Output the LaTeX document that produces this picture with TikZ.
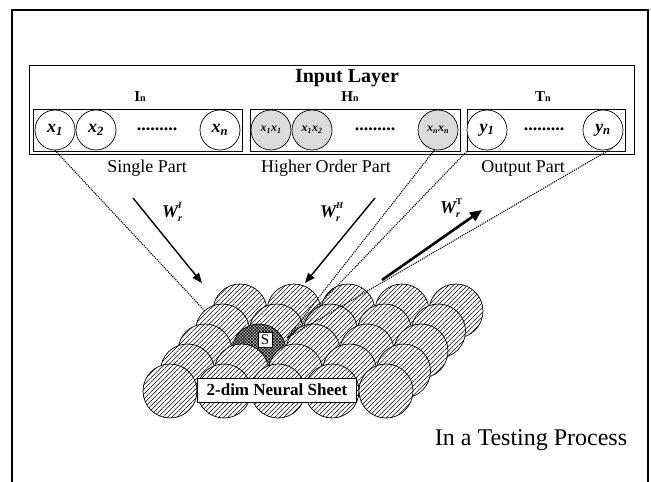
\documentclass[tikz,border=0pt]{standalone}
\usepackage{fontspec}
\setmainfont{Liberation Serif}
\usetikzlibrary{patterns.meta,arrows.meta}
\begin{document}
\begin{tikzpicture}[x=1pt,y=-1pt,
  incirc/.style={circle,draw,line width=0.7pt,minimum size=40pt,inner sep=0pt,fill=white,
    font=\bfseries\itshape\fontsize{18}{18}\selectfont},
  hcirc/.style={incirc,fill=gray!28,font=\bfseries\itshape\fontsize{12}{12}\selectfont},
  partbox/.style={draw,line width=0.8pt,inner sep=0pt},
  plabel/.style={font=\fontsize{18}{20}\selectfont},
  blabel/.style={font=\bfseries\fontsize{15}{16}\selectfont},
  dotsl/.style={font=\bfseries\fontsize{18}{18}\selectfont},
  conn/.style={densely dotted,line width=1.1pt},
  warrow/.style={line width=1.4pt,-{Triangle[length=10pt,width=8pt]}},
  wlabel/.style={font=\fontsize{18}{18}\selectfont}
]
\useasboundingbox (0,0) rectangle (651,482);
% outer frame
\draw[line width=1.6pt] (12,490) -- (12,10) -- (648,10) -- (648,490);

% input layer
\node[partbox,line width=0.9pt,minimum width=605pt,minimum height=89pt] (layer) at (331.5,109.5) {};
\node[font=\bfseries\fontsize{20}{22}\selectfont] (title) at (347,78) {Input Layer};

\node[partbox,minimum width=209pt,minimum height=42pt] (inbox) at (137.5,130) {};
\node[partbox,minimum width=210pt,minimum height=42pt] (hbox) at (355,130) {};
\node[partbox,minimum width=158pt,minimum height=42pt] (tbox) at (546,130) {};

\node[blabel] (inl) at (140,97) {I\raisebox{0pt}{\fontsize{10}{10}\selectfont n}};
\node[blabel] (hnl) at (350,97) {H\raisebox{0pt}{\fontsize{10}{10}\selectfont n}};
\node[blabel] (tnl) at (543,97) {T\raisebox{0pt}{\fontsize{10}{10}\selectfont n}};

\node[incirc] (x1) at (55,130) {x\textsubscript{1}};
\node[incirc] (x2) at (96,130) {x\textsubscript{2}};
\node[dotsl] (idots) at (157,129) {.........};
\node[incirc] (xn) at (220,130) {x\textsubscript{n}};

\node[hcirc] (h1) at (271,130) {x\textsubscript{1}x\textsubscript{1}};
\node[hcirc] (h2) at (312,130) {x\textsubscript{1}x\textsubscript{2}};
\node[dotsl] (hdots) at (375,129) {.........};
\node[hcirc] (hn) at (438,130) {x\textsubscript{n}x\textsubscript{n}};

\node[incirc] (y1) at (487,130) {y\textsubscript{1}};
\node[dotsl] (tdots) at (544,129) {.........};
\node[incirc] (yn) at (603,130) {y\textsubscript{n}};

\node[plabel] (sp) at (147,168) {Single Part};
\node[plabel] (hp) at (326,168) {Higher Order Part};
\node[plabel] (op) at (523,168) {Output Part};

% weights
\node[wlabel] (wi) at (172,212) {\bfseries\itshape W\makebox[0pt][l]{\raisebox{1.1ex}{\fontsize{9}{9}\selectfont I}}\raisebox{-0.4ex}{\fontsize{10}{10}\selectfont r}};
\node[wlabel] (wh) at (330,212) {\bfseries\itshape W\makebox[0pt][l]{\raisebox{1.1ex}{\fontsize{9}{9}\selectfont H}}\raisebox{-0.4ex}{\fontsize{10}{10}\selectfont r}};
\node[wlabel] (wt) at (450,208) {\bfseries\itshape W\makebox[0pt][l]{\raisebox{1.1ex}{\fontsize{9}{9}\upshape\selectfont T}}\raisebox{-0.4ex}{\fontsize{10}{10}\selectfont r}};

\coordinate (ai1) at (133,198); \coordinate (ai2) at (202,283);
\coordinate (ah1) at (375,198); \coordinate (ah2) at (305,283);
\coordinate (at1) at (382,280); \coordinate (at2) at (482,210);
\draw[warrow] (ai1) -- (ai2);
\draw[warrow] (ah1) -- (ah2);
\draw[warrow,line width=2.6pt,-{Triangle[length=12pt,width=10pt]}] (at1) -- (at2);

% hidden connector from x1
\coordinate (Sl) at (232,340);
\coordinate (Sr) at (287,338);
\draw[conn] (x1.south) -- (Sl);

% neural sheet
\foreach \k in {0,...,4}{
 \foreach \j in {0,...,4}{
  \pgfmathsetmacro\cx{240-17.5*\k+54*\j}
  \pgfmathsetmacro\cy{311+20*\k}
  \pgfmathtruncatemacro\isS{and(\k==2,\j==1)}
  \ifnum\isS=1
   \fill[gray!60] (\cx,\cy) circle[radius=27pt];
   \fill[pattern={Lines[angle=45,distance=2.2pt,line width=0.5pt]}] (\cx,\cy) circle[radius=27pt];
   \fill[pattern={Lines[angle=-45,distance=2.2pt,line width=0.5pt]}] (\cx,\cy) circle[radius=27pt];
  \else
   \fill[white] (\cx,\cy) circle[radius=27pt];
   \fill[pattern={Lines[angle=45,distance=3.3pt,line width=0.5pt]}] (\cx,\cy) circle[radius=27pt];
  \fi
  \draw[line width=0.7pt] (\cx,\cy) circle[radius=27pt];
 }}

\draw[conn] (hn.-100) -- (Sr);
\draw[conn] (tbox.south west) -- (Sr);
\draw[conn] (yn.-60) -- (Sr);

\node[draw,fill=white,line width=0.6pt,inner sep=1pt,minimum width=14pt,minimum height=15pt,
  font=\fontsize{15}{15}\selectfont] (S) at (265,340) {S};
\node[draw,fill=white,line width=0.9pt,minimum width=159pt,minimum height=24pt,inner sep=0pt,
  font=\bfseries\fontsize{17}{17}\selectfont] (sheet) at (277,390) {2-dim Neural Sheet};

\node[font=\fontsize{24}{26}\selectfont] (proc) at (531,440) {In a Testing Process};
\end{tikzpicture}
\end{document}
